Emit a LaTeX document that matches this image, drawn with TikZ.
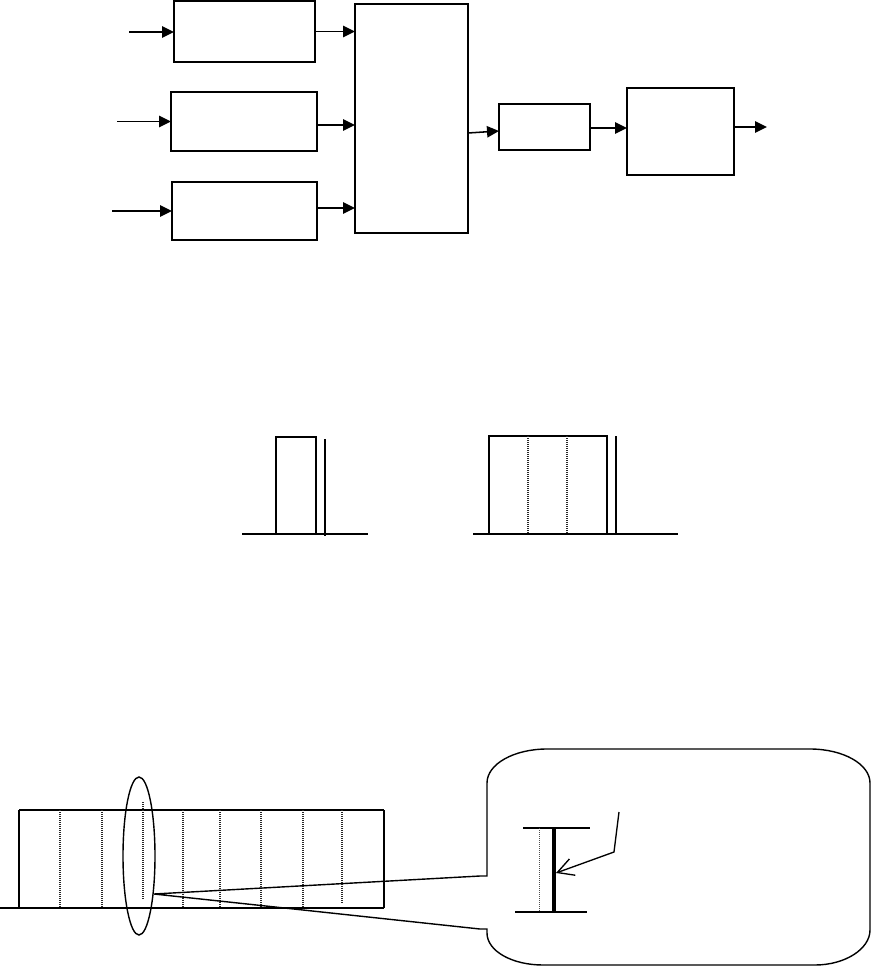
\documentclass[tikz,border=0pt]{standalone}
\usetikzlibrary{arrows.meta,calc}
\begin{document}
\begin{tikzpicture}[x=0.75pt,y=-0.75pt,
  line width=1.05pt,
  blk/.style n args={2}{draw,rectangle,inner sep=0pt,outer sep=0pt,minimum width=#1*0.75pt,minimum height=#2*0.75pt},
  arr/.style={-{Triangle[length=9pt,width=8.5pt]},line width=1.15pt},
  thk/.style={line width=1.8pt},
  dots/.style={line width=0.8pt,dash pattern=on 0.75pt off 0.75pt,black!85},
  barb/.style={-{Straight Barb[length=12pt,width=13pt]},line width=1pt}]
\useasboundingbox (0,0) rectangle (872,967);

% ---- top block diagram ----
\node[blk={141}{61}] (b1) at (244.5,31.5) {};
\node[blk={146}{59}] (b2) at (244,121.5) {};
\node[blk={145}{58}] (b3) at (244.5,211) {};
\node[blk={113}{229}] (big) at (411.5,118.5) {};
\node[blk={91}{46}] (b4) at (544.5,127) {};
\node[blk={107}{87}] (b5) at (680.5,131.5) {};

\coordinate (in1) at (129,32);
\coordinate (in2) at (117,121.5);
\coordinate (in3) at (112,211);
\draw[arr] (in1) -- (in1 -| b1.west);
\draw[arr] (in2) -- (b2.west);
\draw[arr] (in3) -- (b3.west);

\draw[arr] (b1.east) -- (b1.east -| big.west);
\draw[arr] ($(b2.east)+(1,3.5)$) coordinate (s2) -- (s2 -| big.west);
\draw[arr] ($(b3.east)+(0,-3)$) coordinate (s3) -- (s3 -| big.west);
\draw[arr] ($(big.east)+(0,14.5)$) -- ($(b4.west)+(0,4)$);
\draw[arr] ($(b4.east)+(0,1)$) coordinate (s4) -- (s4 -| b5.west);
\coordinate (out) at (767,127);
\draw[arr] (b5.east |- out) -- (out);

% ---- middle pulses ----
\draw (242,534) -- (368,534);
\draw (276,534) -- (276,437) -- (316,437) -- (316,534);
\draw (325,439) -- (325,536);

\draw (473,534) -- (678,534);
\draw[thk] (489,436) rectangle (607,534);
\draw[dots] (528,436) -- (528,534);
\draw[dots] (567,436) -- (567,534);
\draw[thk] (616,436) -- (616,534);

% ---- bottom pulse train ----
\draw (0,908) -- (19,908);
\draw[line width=0.85pt] (19,908) -- (19,810);
\draw[line width=0.85pt] (384,810) -- (384,908);
\draw[line width=1.3pt] (19,810) -- (384,810);
\draw[line width=1.3pt] (19,908) -- (384,908);
\foreach \xx in {60,102,183,220,261,303}
  \draw[dots] (\xx,810) -- (\xx,907);
\draw[dots] (342,810) -- (342,904);
\draw[dots] (143,802) -- (143,899);
\draw (139,856) ellipse [x radius=16, y radius=79];

% ---- callout ----
\coordinate (apex) at (154,894);
\draw (487,876) -- (487,783) .. controls (487,764) and (514,749) .. (547,749)
  -- (810,749) .. controls (843,749) and (870,764) .. (870,783)
  -- (870,930) .. controls (870,949) and (845,965) .. (815,965)
  -- (543,965) .. controls (512,965) and (487,951) .. (487,933) -- (487,929)
  -- (480,929) -- (apex) -- (480,876) -- cycle;

\draw (523,828) -- (590,828);
\draw (515,912) -- (587,912);
\draw[line width=2.3pt] (554,828) -- (554,913);
\draw[line width=0.6pt,dash pattern=on 0.75pt off 0.75pt,black!70] (539,828) -- (539,912);
\coordinate (lead) at (619,812);
\coordinate (tip) at (556,873);
\draw[barb] (lead) -- (614,852) -- (tip);
\end{tikzpicture}
\end{document}
